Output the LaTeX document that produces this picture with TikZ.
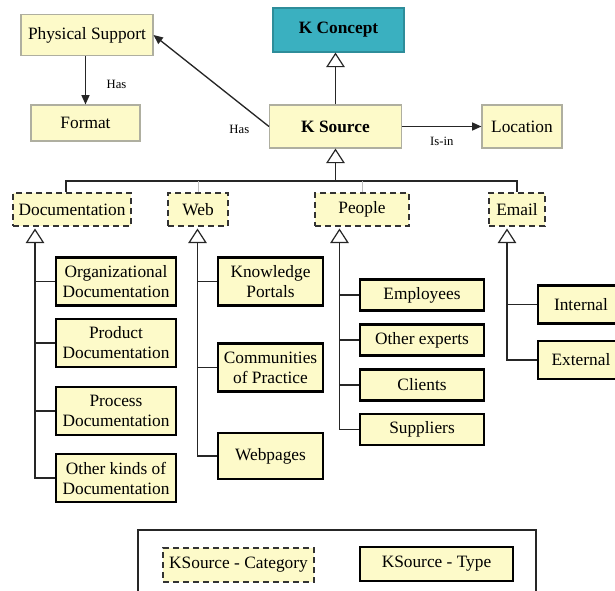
\documentclass[tikz,border=0pt]{standalone}
\usepackage{fontspec}
\setmainfont{Liberation Serif}
\usepackage{tikz}
\usetikzlibrary{arrows.meta, calc, positioning}
\definecolor{srcfill}{RGB}{253,250,201}
\definecolor{conceptfill}{RGB}{58,176,192}
\definecolor{plainline}{RGB}{175,175,160}

\begin{document}
\begin{tikzpicture}[x=0.75pt, y=-0.75pt,
    font=\fontsize{13}{15}\selectfont,
    sz/.style 2 args={minimum width=#1*0.75pt, minimum height=#2*0.75pt},
    plain/.style={draw=plainline, line width=0.8pt, fill=srcfill, inner sep=0pt, align=center},
    cat/.style={draw=black!80, line width=1.1pt, dash pattern=on 4.5pt off 3pt, fill=srcfill, inner sep=0pt, align=center},
    kind/.style={draw=black, line width=2.2pt, fill=srcfill, inner sep=0pt, align=center},
    branch/.style={line width=1pt, draw=black!85},
    rel/.style={branch, -{Triangle[length=7pt, width=6pt]}},
    gen/.style={branch, -{Triangle[open, length=11pt, width=14pt, line width=0.9pt]}},
    lbl/.style={font=\fontsize{9.5}{11}\selectfont}]
    \clip (0,0) rectangle (615,590);
    \node[plain, sz={132}{41}] (ps) at (87,35) {Physical Support};
    \node[plain, sz={109}{36}] (fmt) at (85.5,123) {Format};
    \node[plain, sz={131}{44}, fill=conceptfill, draw=conceptfill!80!black, font=\fontsize{13}{15}\selectfont\bfseries] (kc) at (338.5,30) {K Concept};
    \node[plain, sz={132}{43}, font=\fontsize{13}{15}\selectfont\bfseries] (ks) at (335.5,126.5) {K Source};
    \node[plain, sz={80}{43}] (loc) at (522,126.5) {Location};
    \node[cat, sz={118}{33}] (doc) at (72,209.5) {Documentation};
    \node[cat, sz={60}{33}] (web) at (198,209.5) {Web};
    \node[cat, sz={94}{33}] (ppl) at (362,209.5) {People};
    \node[cat, sz={56}{33}] (mail) at (517,209.5) {Email};
    \node[kind, sz={120}{48}] (doc1) at (116,281.5) {Organizational\\Documentation};
    \node[kind, sz={120}{48}] (doc2) at (116,343) {Product\\Documentation};
    \node[kind, sz={120}{48}] (doc3) at (116,411) {Process\\Documentation};
    \node[kind, sz={120}{48}] (doc4) at (116,478) {Other kinds of\\Documentation};
    \node[kind, sz={105}{48}] (web1) at (270.5,281.5) {Knowledge\\Portals};
    \node[kind, sz={105}{48}] (web2) at (270.5,367.5) {Communities\\of Practice};
    \node[kind, sz={105}{46}] (web3) at (270.5,456) {Webpages};
    \node[kind, sz={124}{31}] (ppl1) at (422,295) {Employees};
    \node[kind, sz={124}{31}] (ppl2) at (422,340) {Other experts};
    \node[kind, sz={124}{31}] (ppl3) at (422,385) {Clients};
    \node[kind, sz={124}{31}] (ppl4) at (422,429.5) {Suppliers};
    \node[kind, sz={86}{38}] (mail1) at (581,304.5) {Internal};
    \node[kind, sz={86}{38}] (mail2) at (581,360) {External};
    \coordinate (bus) at (335.5,181);
    \coordinate (docT) at (35,228.5);
    \coordinate (webT) at (197.5,228.5);
    \coordinate (pplT) at (339.5,228.5);
    \coordinate (mailT) at (507,228.5);
    \draw[rel] (fmt |- ps.south) -- node[lbl, pos=0.58, right=12pt] {Has} (fmt.north);
    \draw[rel] (ks.west) -- node[lbl, at start, left=11pt, yshift=-2pt] {Has} (ps.east);
    \draw[rel] (ks.east) -- node[lbl, below=4pt] {Is-in} (loc.west);
    \draw[gen] (ks.north) -- (ks.north |- kc.south);
    \draw[gen] (bus) -- (bus |- ks.south);
    \draw[branch] ($(doc.north)+(-6,0)$) |- (mail.north |- bus) -- (mail.north);
    \draw[gray!50, line width=0.5pt]
    (web.north) -- (web.north |- bus)
    (ppl.north) -- (ppl.north |- bus);
    \draw[gen] (doc4.west) -| (docT);
    \draw[gen] (web3.west) -| (webT);
    \draw[gen] (ppl4.west) -| (pplT);
    \draw[gen] (mail2.west) -| (mailT);
    \draw[branch]
    (doc1.west) -- (doc1.west -| docT)
    (doc2.west) -- (doc2.west -| docT)
    (doc3.west) -- (doc3.west -| docT)
    (web1.west) -- (web1.west -| webT)
    (web2.west) -- (web2.west -| webT)
    (ppl1.west) -- (ppl1.west -| pplT)
    (ppl2.west) -- (ppl2.west -| pplT)
    (ppl3.west) -- (ppl3.west -| pplT)
    (mail1.west) -- (mail1.west -| mailT);
    \draw[branch] (138,600) rectangle (536,530);
    \node[cat, sz={151}{34}] (legcat) at (238.5,565) {KSource - Category};
    \node[kind, sz={153}{34}] (legkind) at (436.5,564) {KSource - Type};
\end{tikzpicture}
\end{document}
